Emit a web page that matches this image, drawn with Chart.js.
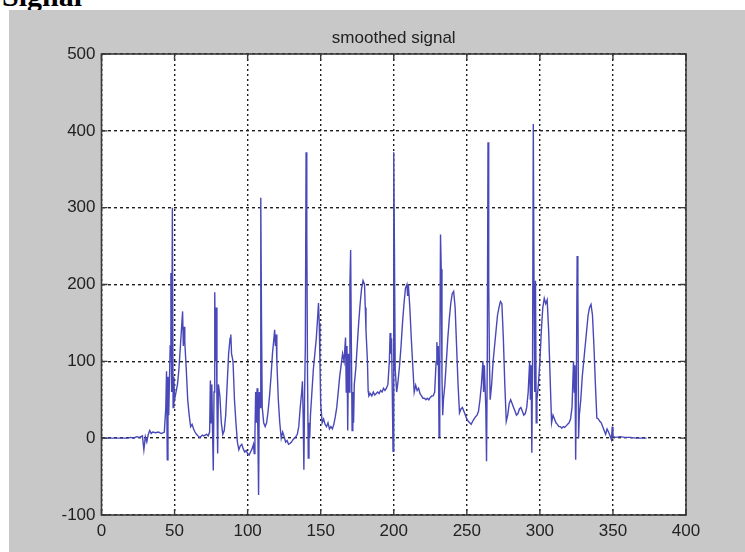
<!DOCTYPE html>
<html>
<head>
<meta charset="utf-8">
<script src="https://cdn.jsdelivr.net/npm/chart.js@4.4.1/dist/chart.umd.min.js"></script>
<style>
body { margin: 0; background: #fff; width: 745px; height: 552px; overflow: hidden; position: relative; }
#cap { position: absolute; left: 2px; top: -21px; font: bold 30px "Liberation Serif", serif; color: #000; }
#fig { position: absolute; left: 9px; top: 10px; width: 736px; height: 542px; background: #c8c8c8; }
</style>
</head>
<body>
<div id="cap">Signal</div>
<div id="fig"><canvas id="c" width="736" height="542"></canvas></div>
<script>
// --- DATA ---
const chartTitle = 'smoothed signal';
const xTicks = [0, 50, 100, 150, 200, 250, 300, 350, 400];
const yTicks = [-100, 0, 100, 200, 300, 400, 500];

// [sample, value]
const signalPoints = [
    [0,0],[10,0],[18,0],[20,1],[22,0],[24,2],[26,1],[28,3],[29,-15],[30,2],[31,-5],[32,5],[33,10],[34,6],[35,8],[37,7],[39,8],[41,6],[43,8],
    [44,40],[44.5,87],[45,-28],[45.5,80],[46,30],[47,120],[47.5,215],[48,60],[48.5,300],[49,40],[49.5,80],[50,50],[51,60],[52,70],[53,90],
    [54,120],[55,150],[55.5,165],[56,120],[56.5,145],[57,125],[58,90],[59,50],[60,30],[61,15],[62,18],[63,12],[64,8],[65,5],[66,3],[67,1],
    [68,2],[69,4],[70,3],[71,4],[72,5],[73,3],[74,8],[74.5,75],[75,20],[75.5,70],[76,10],[76.5,-42],[77,60],[77.5,190],[78,100],[78.5,170],
    [79,50],[79.5,-20],[80,70],[81,55],[82,20],[83,5],[84,10],[85,30],[86,70],[87,110],[88,130],[88.5,135],[89,110],[90,100],[91,50],[92,20],
    [93,-5],[94,-15],[95,-10],[96,-8],[97,-14],[98,-18],[99,-16],[100,-20],[101,-22],[102,-18],[103,-14],[104,-8],[104.5,-20],
    [105,5],[105.5,60],[106,20],[106.5,65],[107,10],[107.5,-74],[108,60],[108.5,40],[109,313],[109.5,155],[110,40],[111,20],[112,15],[113,20],
    [114,35],[115,55],[116,80],[117,110],[118,130],[118.5,141],[119,120],[119.5,135],[120,100],[121,50],[122,20],[123,0],[124,8],[125,2],
    [126,-5],[127,-3],[128,-8],[129,-7],[130,-5],[131,-2],[132,0],[133,2],[134,5],[135,15],[136,40],[137,60],[137.5,74],[138,30],
    [138.5,-41],[139,60],[139.5,120],[140,372],[140.5,270],[141,80],[141.5,-26],[142,20],[142.5,0],[143,30],[144,60],[145,90],[146,110],
    [147,130],[148,160],[148.5,176],[149,150],[149.5,100],[150,45],[151,20],[152,25],[153,18],[154,15],[155,20],[156,12],[157,15],[158,12],
    [159,18],[160,28],[161,40],[162,60],[163,80],[164,95],[165,110],[166,100],[167,131],[167.5,60],[168,120],[168.5,10],[169,110],
    [169.5,60],[170,200],[170.5,245],[171,120],[171.5,10],[172,60],[172.5,20],[173,70],[174,90],[175,120],[176,150],[177,175],[178,195],
    [179,205],[180,200],[180.5,170],[181,140],[182,100],[182.5,61],[183,55],[184,58],[185,55],[186,60],[187,56],[188,58],[189,60],[190,58],
    [191,62],[192,60],[193,65],[194,62],[195,65],[196,70],[197,100],[197.5,137],[198,110],[198.5,130],[199,60],[199.5,-17],[200,372],
    [200.5,240],[201,90],[202,60],[203,75],[204,95],[205,120],[206,150],[207,175],[208,195],[209,200],[209.5,185],[210,200],[211,170],
    [212,130],[213,95],[214,60],[215,69],[216,62],[217,65],[218,58],[219,55],[220,52],[221,52],[222,50],[223,52],[224,50],[225,53],[226,55],
    [227,55],[228,60],[229,100],[229.5,125],[230,95],[230.5,120],[231,2],[231.5,90],[232,265],[232.5,220],[233,80],[233.5,30],[234,50],
    [235,70],[236,100],[237,130],[238,155],[239,175],[240,188],[241,191],[242,170],[243,120],[244,70],[245,33],[246,38],[247,40],[248,35],
    [249,30],[250,25],[251,22],[252,20],[253,18],[254,22],[255,25],[256,28],[257,30],[258,35],[259,50],[260,70],[261,100],[261.5,60],
    [262,95],[263,40],[263.5,-30],[264,100],[264.5,385],[265,200],[265.5,100],[266,50],[267,70],[268,100],[269,120],[270,140],[271,160],
    [272,170],[273,178],[274,175],[275,130],[276,70],[277,22],[278,30],[279,45],[280,50],[281,45],[282,40],[283,35],[284,30],[285,32],
    [286,38],[287,40],[288,35],[289,30],[290,32],[291,40],[292,60],[293,100],[293.5,50],[294,95],[294.5,-19],[295,100],[295.5,409],
    [296,200],[296.5,60],[297,205],[297.5,20],[298,50],[299,70],[300,100],[301,140],[302,170],[303,182],[304,175],[305,180],[306,140],
    [307,80],[308,20],[309,30],[310,25],[311,20],[312,18],[313,15],[314,15],[315,13],[316,15],[317,14],[318,16],[319,18],[320,20],[321,25],
    [322,40],[323,100],[323.5,60],[324,95],[324.5,-28],[325,80],[325.5,237],[326,200],[326.5,0],[327,30],[328,50],[329,80],[330,100],
    [331,120],[332,140],[333,160],[334,170],[335,174],[336,160],[337,120],[338,70],[339,26],[340,25],[341,22],[342,20],[343,15],[344,10],
    [345,5],[346,12],[347,8],[348,3],[349,-2],[349.5,15],[350,2],[352,1],[355,2],[358,1],[362,1],[366,0],[370,0],[373,0]
];

const plotLeft = 92.5, plotRight = 677, plotTop = 44, plotBottom = 505;
const tickFont = { family: '"Liberation Sans", Arial, sans-serif', size: 17 };

// box, inner ticks and title like the matlab figure
const figurePlugin = {
    id: 'figure',
    beforeDraw(chart) {
        const { ctx, chartArea: a } = chart;
        ctx.save();
        ctx.fillStyle = '#fff';
        ctx.fillRect(a.left, a.top, a.right - a.left, a.bottom - a.top);
        ctx.restore();
    },
    afterDraw(chart) {
        const { ctx, chartArea: a, scales } = chart;
        ctx.save();
        ctx.strokeStyle = '#3a3a3a';
        ctx.lineWidth = 1.6;
        ctx.strokeRect(a.left, a.top, a.right - a.left, a.bottom - a.top);
        ctx.lineWidth = 1.4;
        ctx.beginPath();
        xTicks.forEach(v => {
            const px = scales.x.getPixelForValue(v);
            ctx.moveTo(px, a.bottom); ctx.lineTo(px, a.bottom - 6);
            ctx.moveTo(px, a.top); ctx.lineTo(px, a.top + 6);
        });
        yTicks.forEach(v => {
            const py = scales.y.getPixelForValue(v);
            ctx.moveTo(a.left, py); ctx.lineTo(a.left + 6, py);
            ctx.moveTo(a.right, py); ctx.lineTo(a.right - 6, py);
        });
        ctx.stroke();
        ctx.fillStyle = '#222';
        ctx.font = '17px "Liberation Sans", Arial, sans-serif';
        ctx.textAlign = 'center';
        ctx.textBaseline = 'middle';
        ctx.fillText(chartTitle, (a.left + a.right) / 2, 28);
        ctx.restore();
    }
};

new Chart(document.getElementById('c'), {
    type: 'line',
    data: {
        datasets: [{
            data: signalPoints.map(p => ({ x: p[0], y: p[1] })),
            borderColor: '#4848b8',
            borderWidth: 1.4,
            pointRadius: 0,
            tension: 0
        }]
    },
    options: {
        responsive: false,
        animation: false,
        layout: { padding: { left: 0, right: 736 - plotRight, top: plotTop, bottom: 0 } },
        plugins: { legend: { display: false }, tooltip: { enabled: false } },
        scales: {
            x: {
                type: 'linear',
                min: xTicks[0],
                max: xTicks[xTicks.length - 1],
                afterFit: s => { s.height = 542 - plotBottom; },
                ticks: { stepSize: 50, padding: 6, color: '#222', font: tickFont, maxRotation: 0 },
                grid: { color: '#1e1e1e', lineWidth: 1.4, drawTicks: false },
                border: { display: false, dash: [2, 3] }
            },
            y: {
                min: yTicks[0],
                max: yTicks[yTicks.length - 1],
                afterFit: s => { s.width = plotLeft; },
                ticks: { stepSize: 100, padding: 6, color: '#222', font: tickFont },
                grid: { color: '#1e1e1e', lineWidth: 1.4, drawTicks: false },
                border: { display: false, dash: [3, 3] }
            }
        }
    },
    plugins: [figurePlugin]
});
</script>
</body>
</html>
